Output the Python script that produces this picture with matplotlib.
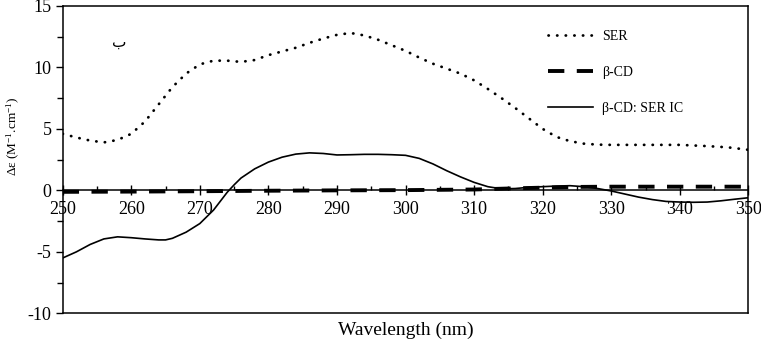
import numpy as np
import matplotlib
matplotlib.use("Agg")
import matplotlib.pyplot as plt
from matplotlib.ticker import MultipleLocator

plt.rcParams['font.family'] = ['Liberation Serif', 'DejaVu Sans']
plt.rcParams['mathtext.fontset'] = 'custom'
plt.rcParams['mathtext.rm'] = 'Liberation Serif'
plt.rcParams['mathtext.it'] = 'Liberation Serif:italic'
plt.rcParams['axes.unicode_minus'] = False

# SER (dotted)
ser_wl = [250, 252, 254, 256, 258, 260, 262, 264, 266, 268, 270, 272, 274, 276,
          278, 280, 282, 284, 286, 288, 290, 292, 294, 296, 298, 300, 302, 304,
          306, 308, 310, 312, 314, 316, 318, 320, 322, 324, 326, 328, 330, 335,
          340, 344, 347, 350]
ser_val = [4.6, 4.3, 4.05, 3.9, 4.1, 4.6, 5.6, 7.0, 8.4, 9.5, 10.25, 10.55, 10.55,
           10.45, 10.6, 11.0, 11.3, 11.6, 12.0, 12.35, 12.65, 12.8, 12.6, 12.25,
           11.8, 11.35, 10.8, 10.3, 9.9, 9.5, 8.95, 8.25, 7.5, 6.7, 5.85, 5.0,
           4.35, 4.0, 3.8, 3.72, 3.7, 3.7, 3.7, 3.6, 3.5, 3.3]

# beta-CD (dashed)
cd_wl = [250, 260, 270, 280, 290, 300, 310, 315, 320, 325, 330, 340, 350]
cd_val = [-0.12, -0.1, -0.07, -0.03, 0.0, 0.02, 0.07, 0.15, 0.22, 0.28, 0.3, 0.3, 0.3]

# beta-CD: SER IC (solid)
ic_wl = [250, 252, 254, 256, 258, 260, 262, 264, 265, 266, 268, 270, 272, 274,
         275, 276, 278, 280, 282, 284, 286, 288, 290, 292, 294, 296, 298, 300,
         302, 304, 306, 308, 310, 312, 314, 316, 318, 320, 322, 324, 326, 328,
         330, 332, 334, 336, 338, 340, 342, 344, 346, 348, 350]
ic_val = [-5.5, -5.0, -4.4, -3.95, -3.78, -3.85, -3.95, -4.03, -4.03, -3.9, -3.4,
          -2.7, -1.6, -0.15, 0.45, 1.0, 1.75, 2.3, 2.7, 2.95, 3.05, 3.0, 2.88, 2.9,
          2.93, 2.93, 2.9, 2.85, 2.6, 2.15, 1.6, 1.1, 0.65, 0.3, 0.12, 0.15, 0.25,
          0.3, 0.35, 0.38, 0.3, 0.15, -0.05, -0.3, -0.55, -0.75, -0.9, -0.95, -0.97,
          -0.95, -0.85, -0.72, -0.6]

fig = plt.figure(figsize=(7.61, 3.40), dpi=100)
ax = fig.add_axes([0.0824, 0.0785, 0.901, 0.904])

ax.plot(ser_wl, ser_val, color='black', lw=2.0, linestyle=(0, (0.1, 3.0)),
        dash_capstyle='round', label='SER')
ax.plot(cd_wl, cd_val, color='black', lw=2.8, linestyle=(0, (4.2, 3.2)),
        label='β-CD')
ax.plot(ic_wl, ic_val, color='black', lw=1.2, label='β-CD: SER IC')

ax.set_xlim(250, 350)
ax.set_ylim(-10, 15)

for s in ax.spines.values():
    s.set_linewidth(1.1)
ax.spines['bottom'].set_position(('data', 0))
# frame line at the bottom of the plot
ax.plot([0, 1], [0, 0], transform=ax.transAxes, color='black', lw=1.1, clip_on=False)

ax.xaxis.set_major_locator(MultipleLocator(10))
ax.xaxis.set_minor_locator(MultipleLocator(5))
ax.yaxis.set_major_locator(MultipleLocator(5))
ax.yaxis.set_minor_locator(MultipleLocator(2.5))
ax.tick_params(axis='x', which='major', direction='inout', length=7, width=1,
               labelsize=13, pad=4)
ax.tick_params(axis='x', which='minor', direction='in', length=3, width=1)
ax.tick_params(axis='y', which='major', direction='out', length=5, width=1,
               labelsize=13, pad=3)
ax.tick_params(axis='y', which='minor', direction='out', length=4, width=1)

ax.set_xlabel('Wavelength (nm)', fontsize=14)
ax.xaxis.set_label_coords(0.5, -0.028)
ax.set_ylabel(r'Δε (M$^{\mathrm{-1}}$.cm$^{\mathrm{-1}}$)', fontsize=9.5)
ax.yaxis.set_label_coords(-0.06, 0.577)

ax.text(258.2, 12.05, 'ب', ha='center', va='center', fontsize=11,
        family=['DejaVu Sans'])

ax.legend(loc='upper left', bbox_to_anchor=(0.708, 0.922), frameon=False,
          fontsize=10, handlelength=3.2, handletextpad=0.7, labelspacing=1.65,
          borderpad=0, borderaxespad=0)

fig.savefig('out.png', dpi=100)
